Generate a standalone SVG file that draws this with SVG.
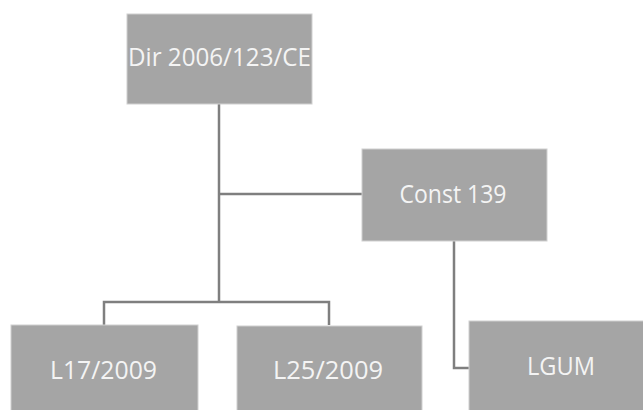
<svg xmlns="http://www.w3.org/2000/svg" width="643" height="410" viewBox="0 0 643 410">
<style>
.box{fill:#a5a5a5;stroke:#d0d0d0;stroke-width:1}
.lbl{font-family:"Open Sans",Lato,sans-serif;font-size:25px;fill:#f4f4f4;text-anchor:middle}
.ln{fill:none;stroke:#7f7f7f;stroke-width:2.5}
</style>
<rect width="643" height="410" fill="#ffffff"/>
<g id="connectors">
<path class="ln" d="M219 104 V302"/>
<path class="ln" d="M219 194 H362"/>
<path class="ln" d="M104 325 V302 H329 V325"/>
<path class="ln" d="M454 241 V368 H469"/>
</g>
<g id="dir">
<rect class="box" x="127" y="14" width="185" height="90"/>
<text class="lbl" x="219.5" y="66" textLength="183" lengthAdjust="spacingAndGlyphs">Dir 2006/123/CE</text>
</g>
<g id="const">
<rect class="box" x="362" y="149" width="185" height="92"/>
<text class="lbl" x="453" y="203" textLength="107" lengthAdjust="spacingAndGlyphs">Const 139</text>
</g>
<g id="l17">
<rect class="box" x="11" y="325" width="187" height="90"/>
<text class="lbl" x="103.5" y="379" textLength="107" lengthAdjust="spacingAndGlyphs">L17/2009</text>
</g>
<g id="l25">
<rect class="box" x="237" y="326" width="185" height="90"/>
<text class="lbl" x="328" y="379" textLength="110" lengthAdjust="spacingAndGlyphs">L25/2009</text>
</g>
<g id="lgum">
<rect class="box" x="469" y="321" width="180" height="95"/>
<text class="lbl" x="561" y="375" textLength="68" lengthAdjust="spacingAndGlyphs">LGUM</text>
</g>
</svg>
